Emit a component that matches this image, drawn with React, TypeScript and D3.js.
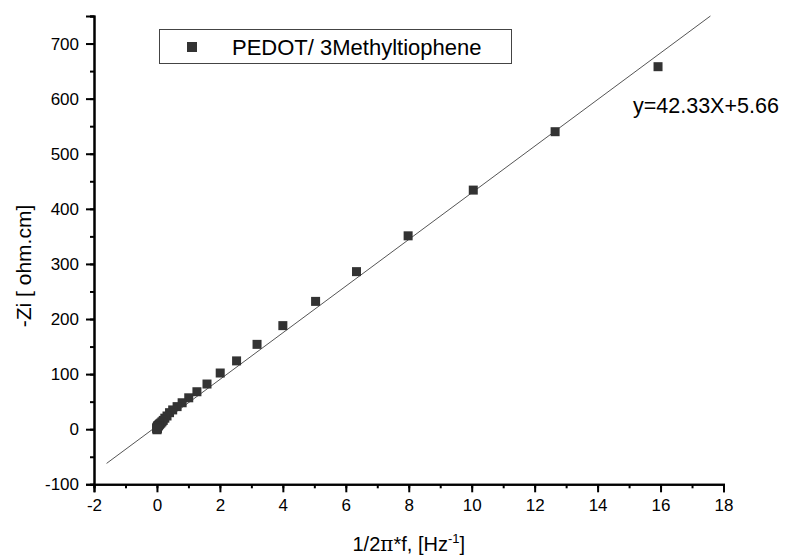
import React, { useEffect, useRef } from 'react';
import * as d3 from 'd3';

// 1/(2*pi*f) values, [Hz^-1]
const invFreq = [
  15.92, 12.65, 10.05, 7.98, 6.34, 5.04, 4.0, 3.18, 2.53, 2.01, 1.59, 1.27, 1.01, 0.8,
  0.64, 0.5, 0.4, 0.32, 0.25, 0.2, 0.16, 0.127, 0.1, 0.08, 0.064, 0.05, 0.04, 0.032,
  0.025, 0.02, 0.016, 0.0127, 0.01, 0.008, 0.0064, 0.005, 0.004, 0.0032, 0.0025, 0.002,
];
// -Zi values, [ohm.cm]
const zi = [
  658, 540, 434, 351, 286, 232, 188, 154, 124, 102, 82, 68, 57, 48,
  41, 35, 30, 24, 20, 16, 13.5, 11.5, 10, 9, 8, 7, 6.5, 6,
  5.5, 5, 4.5, 4, 3.5, 3, 2.5, 2, 1.5, 1, 0.5, -1,
];
const slope = 42.33;
const intercept = 5.66;
const xTicks = [-2, 0, 2, 4, 6, 8, 10, 12, 14, 16, 18];
const yTicks = [-100, 0, 100, 200, 300, 400, 500, 600, 700];
const seriesName = 'PEDOT/ 3Methyltiophene';
const equation = 'y=42.33X+5.66';

export default function App() {
  const ref = useRef<SVGSVGElement>(null);

  useEffect(() => {
    const svg = d3.select(ref.current);
    svg.selectAll('*').remove();

    const x = d3.scaleLinear().domain([-2, 18]).range([94, 723.5]);
    const y = d3.scaleLinear().domain([-100, 750]).range([484.3, 16]);
    const font = 'Arial, "Liberation Sans", sans-serif';
    const plain = (d: d3.NumberValue) => String(d);

    // fit line
    const x0 = -1.6;
    const x1 = (750 - intercept) / slope;
    svg.append('line')
      .attr('x1', x(x0)).attr('y1', y(slope * x0 + intercept))
      .attr('x2', x(x1)).attr('y2', y(slope * x1 + intercept))
      .attr('stroke', '#555').attr('stroke-width', 1);

    // points
    const pts = invFreq.map((v, i) => ({ x: v, y: zi[i] }));
    const s = 9;
    svg.append('g').selectAll('rect')
      .data(pts)
      .join('rect')
      .attr('x', d => x(d.x) - s / 2)
      .attr('y', d => y(d.y) - s / 2)
      .attr('width', s).attr('height', s)
      .attr('fill', '#333');

    // x axis
    const gx = svg.append('g').attr('transform', `translate(0,${y(-100)})`);
    gx.call(d3.axisBottom(x).tickValues(d3.range(-2, 18.5, 1)).tickSize(4).tickFormat(() => ''));
    gx.call(g => g.append('g').call(d3.axisBottom(x).tickValues(xTicks).tickSize(8).tickFormat(plain)));
    gx.selectAll('.domain').attr('stroke-width', 2);
    gx.selectAll('.tick line').attr('stroke-width', 2);
    gx.selectAll('text').attr('font-size', 17).attr('font-family', font).attr('fill', '#000').attr('dy', '0.95em');

    // y axis
    const gy = svg.append('g').attr('transform', `translate(${x(-2)},0)`);
    gy.call(d3.axisLeft(y).tickValues(d3.range(-100, 751, 50)).tickSize(4).tickFormat(() => ''));
    gy.call(g => g.append('g').call(d3.axisLeft(y).tickValues(yTicks).tickSize(8).tickFormat(plain)));
    gy.selectAll('.domain').attr('stroke-width', 2);
    gy.selectAll('.tick line').attr('stroke-width', 2);
    gy.selectAll('text').attr('font-size', 17).attr('font-family', font).attr('fill', '#000').attr('x', -15);

    // axis titles
    const xt = svg.append('text')
      .attr('x', (x(-2) + x(18)) / 2).attr('y', 551)
      .attr('text-anchor', 'middle').attr('font-size', 20).attr('font-family', font);
    xt.append('tspan').text('1/2');
    xt.append('tspan').attr('font-family', '"DejaVu Serif", serif').text('π');
    xt.append('tspan').text('*f, [Hz');
    xt.append('tspan').attr('font-size', 13).attr('dy', -8).text('-1');
    xt.append('tspan').attr('dy', 8).text(']');

    svg.append('text')
      .attr('transform', `translate(31,266) rotate(-90)`)
      .attr('text-anchor', 'middle').attr('font-size', 21).attr('font-family', font)
      .text('-Zi [ ohm.cm]');

    // legend
    svg.append('rect')
      .attr('x', 159.5).attr('y', 29.5).attr('width', 352).attr('height', 34)
      .attr('fill', '#fff').attr('stroke', '#444').attr('stroke-width', 1);
    svg.append('rect')
      .attr('x', 192 - 5).attr('y', 47 - 5).attr('width', 10).attr('height', 10).attr('fill', '#333');
    svg.append('text')
      .attr('x', 232).attr('y', 55).attr('font-size', 22).attr('font-family', font)
      .text(seriesName);

    // equation
    svg.append('text')
      .attr('x', 633).attr('y', 113).attr('font-size', 21.5).attr('font-family', font)
      .text(equation);
  }, []);

  return (
    <svg ref={ref} width={785} height={556}
      style={{ position: 'absolute', left: 0, top: 0, background: '#fff' }} />
  );
}
